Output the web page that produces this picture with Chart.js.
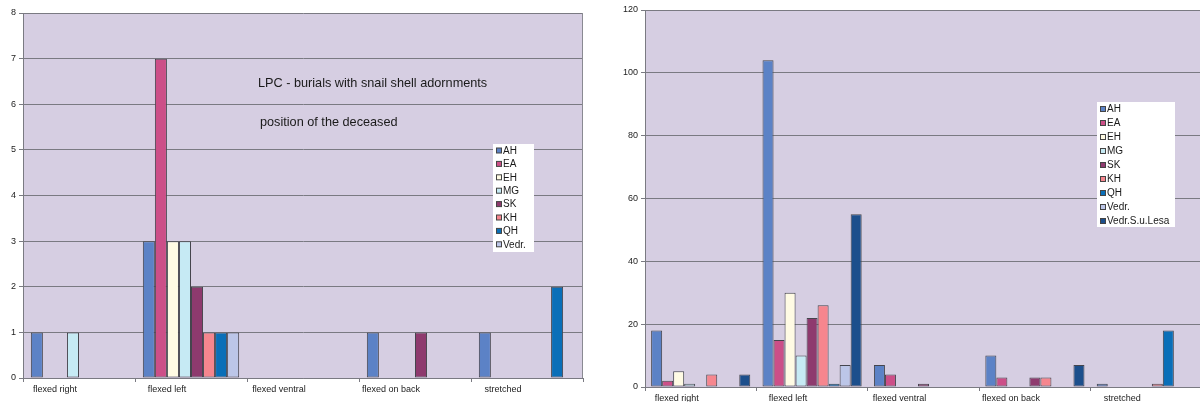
<!DOCTYPE html>
<html>
<head>
<meta charset="utf-8">
<script src="https://cdn.jsdelivr.net/npm/chart.js@4/dist/chart.umd.min.js"></script>
<style>
  html, body { margin: 0; padding: 0; background: #fff; overflow: hidden; width: 1200px; height: 402px; }
  #leftChart { position: absolute; left: 0; top: 0; }
  #rightChart { position: absolute; left: 600px; top: 0; }
</style>
</head>
<body>
<canvas id="leftChart" width="592" height="402"></canvas>
<canvas id="rightChart" width="605" height="412"></canvas>
<script>
const categories = ["flexed right", "flexed left", "flexed ventral", "flexed on back", "stretched"];

const seriesNames = ["AH", "EA", "EH", "MG", "SK", "KH", "QH", "Vedr.", "Vedr.S.u.Lesa"];
const seriesColors = ["#5c82c6", "#cc4f88", "#fffbe4", "#c6eaf4", "#8e3a6e", "#f6868e", "#0a6fb8", "#bcc6e8", "#1c4f8c"];

// left chart: burials with snail shell adornments
const leftAH   = [1, 3, 0, 1, 1];
const leftEA   = [0, 7, 0, 0, 0];
const leftEH   = [0, 3, 0, 0, 0];
const leftMG   = [1, 3, 0, 0, 0];
const leftSK   = [0, 2, 0, 1, 0];
const leftKH   = [0, 1, 0, 0, 0];
const leftQH   = [0, 1, 0, 0, 2];
const leftVedr = [0, 1, 0, 0, 0];
const leftTicks = [0, 1, 2, 3, 4, 5, 6, 7, 8];

// right chart: all burials
const rightAH   = [18, 104, 7, 10, 1];
const rightEA   = [2, 15, 4, 3, 0];
const rightEH   = [5, 30, 0, 0, 0];
const rightMG   = [1, 10, 0, 0, 0];
const rightSK   = [0, 22, 1, 3, 0];
const rightKH   = [4, 26, 0, 3, 1];
const rightQH   = [0, 1, 0, 0, 18];
const rightVedr = [0, 7, 0, 0, 0];
const rightVSL  = [4, 55, 0, 7, 0];
const rightTicks = [0, 20, 40, 60, 80, 100, 120];

const leftNotes = ["LPC - burials with snail shell adornments", "position of the deceased"];

const fontFamily = "'Liberation Sans', Arial, sans-serif";

const plotDecor = {
  id: "plotDecor",
  beforeDraw(chart) {
    const { ctx, chartArea: a } = chart;
    ctx.save();
    ctx.fillStyle = "#d6cee2";
    ctx.fillRect(a.left, a.top, a.width, a.height);
    ctx.restore();
  },
  afterDraw(chart, args, opts) {
    const { ctx, chartArea: a } = chart;
    ctx.save();
    // right border of plot
    ctx.strokeStyle = "#8a8a92";
    ctx.lineWidth = 1;
    ctx.beginPath();
    ctx.moveTo(a.right - 0.5, a.top);
    ctx.lineTo(a.right - 0.5, a.bottom);
    ctx.stroke();

    // notes inside the plot
    if (opts.notes) {
      ctx.fillStyle = "#1a1a1a";
      ctx.font = "12.7px " + fontFamily;
      ctx.textBaseline = "middle";
      opts.notes.forEach((t, i) => {
        ctx.fillText(t, opts.noteX[i], opts.noteY[i]);
      });
    }

    // boxed legend
    const lg = opts.legend;
    if (lg) {
      const sets = chart.data.datasets;
      ctx.fillStyle = "#ffffff";
      ctx.fillRect(lg.x, lg.y, lg.w, lg.h);
      ctx.font = "10px " + fontFamily;
      ctx.textBaseline = "middle";
      sets.forEach((ds, i) => {
        const cy = lg.y + lg.first + i * lg.step;
        ctx.fillStyle = ds.backgroundColor;
        ctx.fillRect(lg.x + 3.5, cy - 2.5, 5, 5);
        ctx.strokeStyle = "#444";
        ctx.strokeRect(lg.x + 3.5, cy - 2.5, 5, 5);
        ctx.fillStyle = "#1a1a1a";
        ctx.fillText(ds.label, lg.x + 10, cy + 0.5);
      });
    }
    ctx.restore();
  }
};

function makeDatasets(values, barPct) {
  return values.map((v, i) => ({
    label: seriesNames[i],
    data: v,
    backgroundColor: seriesColors[i],
    borderColor: "#45454d",
    borderWidth: 1,
    borderSkipped: false,
    categoryPercentage: barPct,
    barPercentage: 1
  }));
}

function makeOptions(ticks, yWidth, xHeight, padding, extra) {
  return {
    responsive: false,
    animation: false,
    devicePixelRatio: 1,
    layout: { padding: padding },
    plugins: {
      legend: { display: false },
      tooltip: { enabled: false },
      plotDecor: extra
    },
    scales: {
      x: {
        offset: true,
        grid: { offset: true, drawOnChartArea: false, drawTicks: true, tickLength: 4, color: "#7a7a82" },
        border: { color: "#7a7a82" },
        ticks: {
          font: { size: 9, family: fontFamily },
          color: "#222",
          padding: 2,
          labelOffset: -24,
          maxRotation: 0,
          autoSkip: false
        },
        afterFit(s) { s.height = xHeight; }
      },
      y: {
        min: ticks[0],
        max: ticks[ticks.length - 1],
        afterBuildTicks(s) { s.ticks = ticks.map(v => ({ value: v })); },
        grid: { color: "#7a7a82", tickLength: 4, drawTicks: true },
        border: { color: "#7a7a82" },
        ticks: {
          font: { size: 9, family: fontFamily },
          color: "#222",
          padding: 3
        },
        afterFit(s) { s.width = yWidth; }
      }
    }
  };
}

new Chart(document.getElementById("leftChart"), {
  type: "bar",
  data: {
    labels: categories,
    datasets: makeDatasets([leftAH, leftEA, leftEH, leftMG, leftSK, leftKH, leftQH, leftVedr], 0.86)
  },
  options: makeOptions(leftTicks, 23, 24, { top: 13, right: 9, left: 0, bottom: 0 }, {
    notes: leftNotes,
    noteX: [258, 260],
    noteY: [83, 122],
    legend: { x: 493, y: 144, w: 41, h: 108, first: 6.5, step: 13.4 }
  }),
  plugins: [plotDecor]
});

new Chart(document.getElementById("rightChart"), {
  type: "bar",
  data: {
    labels: categories,
    datasets: makeDatasets([rightAH, rightEA, rightEH, rightMG, rightSK, rightKH, rightQH, rightVedr, rightVSL], 0.89)
  },
  options: makeOptions(rightTicks, 45, 25, { top: 10, right: 3, left: 0, bottom: 0 }, {
    legend: { x: 497, y: 102, w: 78, h: 125, first: 7, step: 14 }
  }),
  plugins: [plotDecor]
});
</script>
</body>
</html>
